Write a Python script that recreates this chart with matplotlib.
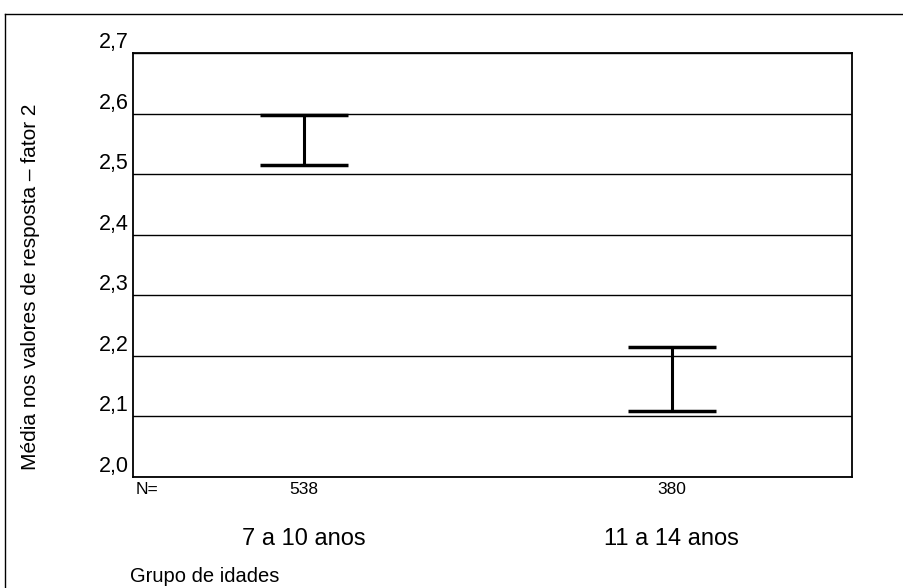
import matplotlib.pyplot as plt
from matplotlib.lines import Line2D

plt.rcParams['font.family'] = ['Liberation Sans', 'DejaVu Sans']

groups = ['7 a 10 anos', '11 a 14 anos']
n_counts = [538, 380]
upper = [2.597, 2.214]
lower = [2.515, 2.109]
yticks = [2.0, 2.1, 2.2, 2.3, 2.4, 2.5, 2.6, 2.7]
ytick_labels = ['2,0', '2,1', '2,2', '2,3', '2,4', '2,5', '2,6', '2,7']

fig = plt.figure(figsize=(9.04, 5.88), dpi=100)
ax = fig.add_axes([133 / 904, 1 - 477 / 588, 719 / 904, 424 / 588])

pos = [1, 2]
for x, lo, hi in zip(pos, lower, upper):
    ax.plot([x, x], [lo, hi], color='black', lw=2.2, solid_capstyle='butt')
    ax.plot([x - 0.12, x + 0.12], [hi, hi], color='black', lw=2.5, solid_capstyle='butt')
    ax.plot([x - 0.12, x + 0.12], [lo, lo], color='black', lw=2.5, solid_capstyle='butt')

ax.set_xlim(0.535, 2.49)
ax.set_ylim(2.0, 2.7)
ax.set_yticks(yticks)
ax.set_yticklabels(ytick_labels, fontsize=15.5)
for lab in ax.get_yticklabels():
    lab.set_verticalalignment('bottom')
ax.tick_params(axis='y', length=0, pad=3)
ax.set_xticks([])
ax.grid(axis='y', color='black', lw=1.0)
for s in ax.spines.values():
    s.set_linewidth(1.3)

ax.set_ylabel('Média nos valores de resposta – fator 2', fontsize=15)
ax.yaxis.set_label_coords(-0.129, 0.448)

# N= row and group names under the axes
ax.text(0.003, -0.012, 'N=', transform=ax.transAxes, fontsize=12.5,
        va='top', ha='left')
for x, n, g in zip(pos, n_counts, groups):
    ax.text(x, -0.012, str(n), transform=ax.get_xaxis_transform(), fontsize=12.5,
            ha='center', va='top')
    ax.text(x, -0.146, g, transform=ax.get_xaxis_transform(), fontsize=17,
            ha='center', va='center')
fig.text(130 / 904, 1 - 576 / 588, 'Grupo de idades', fontsize=14.5, ha='left', va='center')

# outer frame
fig.add_artist(Line2D([5 / 904, 5 / 904], [0, 1 - 14 / 588], color='black', lw=1.0,
                      transform=fig.transFigure))
fig.add_artist(Line2D([5 / 904, 1], [1 - 14 / 588, 1 - 14 / 588], color='black', lw=1.0,
                      transform=fig.transFigure))

fig.savefig('out.png', dpi=100)
